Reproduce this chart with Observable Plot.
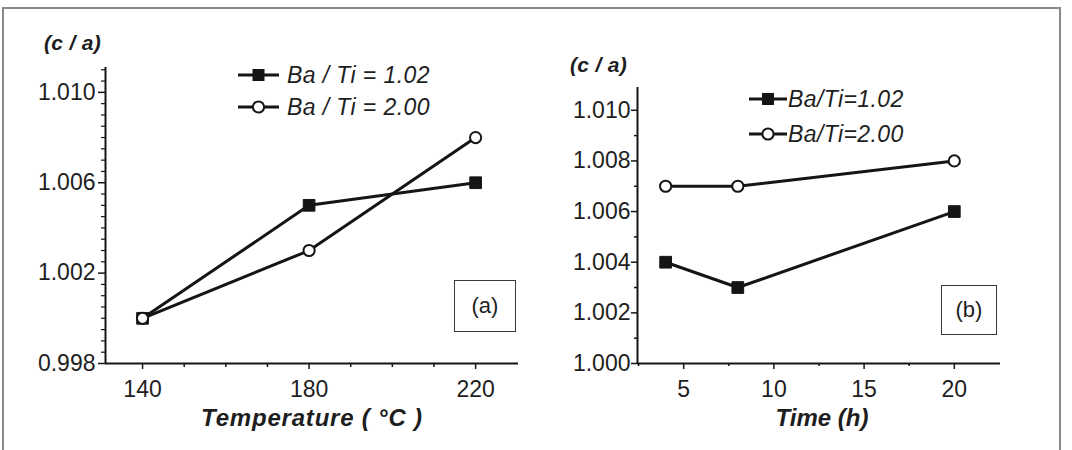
<!DOCTYPE html>
<html>
<head>
<meta charset="utf-8">
<script src="https://cdn.jsdelivr.net/npm/d3@7"></script>
<script src="https://cdn.jsdelivr.net/npm/@observablehq/plot@0.6"></script>
<style>
  body { margin: 0; background: #fff; }
  #wrap { position: relative; width: 1072px; height: 450px; overflow: hidden; background: #fff;
          font-family: "Liberation Sans", Arial, sans-serif; color: #1e1e1e; }
  .abs { position: absolute; white-space: nowrap; }
  .ca { font-size: 21px; font-weight: bold; font-style: italic; transform: translateY(-50%); letter-spacing: 0.3px; }
  .xt { font-size: 24px; font-weight: bold; font-style: italic; transform: translate(-50%, -50%); }
  .leg { font-size: 23px; font-style: italic; transform: translateY(-50%); letter-spacing: 0.4px; }
  .box { border: 1.5px solid #3a3a3a; font-size: 22px; display: flex; align-items: center; justify-content: center; box-sizing: border-box; }
  .frame { border: 2px solid #8a8a8a; box-sizing: border-box; }
</style>
</head>
<body>
<div id="wrap">
  <div class="abs frame" style="left:2px; top:7px; width:1059px; height:520px;"></div>
  <div class="abs" id="panelA" style="left:0; top:0;"></div>
  <div class="abs" id="panelB" style="left:536px; top:0;"></div>
</div>
<script>
// Lattice tetragonality (c/a) of BaTiO3 powders for two Ba/Ti ratios
const seriesA = ["Ba / Ti = 1.02", "Ba / Ti = 2.00"];
const seriesB = ["Ba/Ti=1.02", "Ba/Ti=2.00"];
const seriesMarker = ["square", "circle"];

// (a) versus synthesis temperature
const temperature = [140, 180, 220];
const caTempLow = [1.000, 1.005, 1.006];   // Ba/Ti = 1.02
const caTempHigh = [1.000, 1.003, 1.008];  // Ba/Ti = 2.00

// (b) versus synthesis time
const timeH = [4, 8, 20];
const caTimeLow = [1.004, 1.003, 1.006];   // Ba/Ti = 1.02
const caTimeHigh = [1.007, 1.007, 1.008];  // Ba/Ti = 2.00

// tick values
const tempTicks = [140, 180, 220];
const tempMinor = [150, 160, 170, 190, 200, 210];
const caTicksA = [0.998, 1.002, 1.006, 1.010];
const timeTicks = [5, 10, 15, 20];
const timeMinor = [2.5, 7.5, 12.5, 17.5];
const caTicksB = [1.000, 1.002, 1.004, 1.006, 1.008, 1.010];
const caMinorB = [1.001, 1.003, 1.005, 1.007, 1.009];

const xDomainA = [131.1, 230.3];
const yDomainA = [0.998, 1.0111];
const xDomainB = [2.44, 22.56];
const yDomainB = [1.000, 1.0109];

const ink = "#151515";
const textInk = "#1e1e1e";
const fmt3 = d3.format(".3f");
const blank = () => "";

function rows(xs, ys, s) { return xs.map((x, i) => ({x, y: ys[i], s})); }

const dataA = [...rows(temperature, caTempLow, 0), ...rows(temperature, caTempHigh, 1)];
const dataB = [...rows(timeH, caTimeLow, 0), ...rows(timeH, caTimeHigh, 1)];

function seriesMarks(data) {
  return [
    Plot.line(data.filter(d => d.s === 0), {x: "x", y: "y", stroke: ink, strokeWidth: 3}),
    Plot.line(data.filter(d => d.s === 1), {x: "x", y: "y", stroke: ink, strokeWidth: 3}),
    Plot.dot(data.filter(d => d.s === 0), {x: "x", y: "y", symbol: "square", r: 6.6, fill: ink, stroke: ink, strokeWidth: 1}),
    Plot.dot(data.filter(d => d.s === 1), {x: "x", y: "y", symbol: "circle", r: 5.6, fill: "#fff", stroke: ink, strokeWidth: 2})
  ];
}

function range(a, b, step) {
  const out = [];
  for (let v = a; v <= b + 1e-9; v += step) out.push(+v.toFixed(4));
  return out;
}

const plotStyle = {fontFamily: "'Liberation Sans', Arial, sans-serif", color: textInk, background: "transparent", overflow: "visible"};

// Panel (a): temperature
const plotA = Plot.plot({
  width: 536, height: 450,
  marginLeft: 105, marginRight: 18, marginTop: 67, marginBottom: 87,
  style: plotStyle,
  x: {domain: xDomainA},
  y: {domain: yDomainA},
  marks: [
    Plot.axisY(range(0.9985, 1.011, 0.0005).filter(v => !caTicksA.some(t => Math.abs(t - v) < 1e-6)),
      {tickSize: 4, tickFormat: blank, stroke: ink, strokeWidth: 1.2, label: null}),
    Plot.axisY(caTicksA, {tickSize: 7, tickPadding: 3, tickFormat: fmt3, fontSize: 23, stroke: ink, strokeWidth: 1.5, label: null}),
    Plot.axisX(tempMinor, {tickSize: 4, tickFormat: blank, stroke: ink, strokeWidth: 1.5, label: null}),
    Plot.axisX(tempTicks, {tickSize: 6, tickPadding: 11, fontSize: 23, stroke: ink, strokeWidth: 1.5, label: null}),
    Plot.ruleX([xDomainA[0]], {stroke: ink, strokeWidth: 2}),
    Plot.ruleY([yDomainA[0]], {stroke: ink, strokeWidth: 2}),
    ...seriesMarks(dataA)
  ]
});
document.getElementById("panelA").append(plotA);

// Panel (b): time
const plotB = Plot.plot({
  width: 536, height: 450,
  marginLeft: 101, marginRight: 72, marginTop: 87, marginBottom: 87,
  style: plotStyle,
  x: {domain: xDomainB},
  y: {domain: yDomainB},
  marks: [
    Plot.axisY(caMinorB, {tickSize: 3, tickFormat: blank, stroke: ink, strokeWidth: 1.5, label: null}),
    Plot.axisY(caTicksB, {tickSize: 6, tickPadding: 1, tickFormat: fmt3, fontSize: 23, stroke: ink, strokeWidth: 1.5, label: null}),
    Plot.axisX(timeMinor, {tickSize: 3, tickFormat: blank, stroke: ink, strokeWidth: 1.5, label: null}),
    Plot.axisX(timeTicks, {tickSize: 6, tickPadding: 11, fontSize: 23, stroke: ink, strokeWidth: 1.5, label: null}),
    Plot.ruleX([xDomainB[0]], {stroke: ink, strokeWidth: 2}),
    Plot.ruleY([yDomainB[0]], {stroke: ink, strokeWidth: 2}),
    ...seriesMarks(dataB)
  ]
});
document.getElementById("panelB").append(plotB);

// Text annotations, legends and panel tags
const wrap = document.getElementById("wrap");
function addDiv(cls, style, html) {
  const d = document.createElement("div");
  d.className = "abs " + cls;
  d.setAttribute("style", style);
  d.innerHTML = html;
  wrap.append(d);
  return d;
}
addDiv("ca", "left:44px; top:43px;", "(c / a)");
addDiv("ca", "left:570px; top:65px;", "(c / a)");
addDiv("xt", "left:312px; top:418px; letter-spacing:0.8px;", "Temperature ( °C )");
addDiv("xt", "left:822px; top:418px;", "Time (h)");
addDiv("box", "left:454px; top:280px; width:62px; height:52px;", "(a)");
addDiv("box", "left:941px; top:285px; width:56px; height:50px;", "(b)");

function swatch(marker, w) {
  const c = w / 2;
  const m = marker === "square"
    ? `<rect x="${c - 6}" y="4" width="12" height="12" fill="${ink}"/>`
    : `<circle cx="${c}" cy="10" r="5.6" fill="#fff" stroke="${ink}" stroke-width="2"/>`;
  return `<svg width="${w}" height="20" style="display:block"><line x1="0" x2="${w}" y1="10" y2="10" stroke="${ink}" stroke-width="3"/>${m}</svg>`;
}
function legend(names, x, textX, ys, w) {
  names.forEach((name, i) => {
    addDiv("", `left:${x}px; top:${ys[i] - 10}px;`, swatch(seriesMarker[i], w));
    addDiv("leg", `left:${textX}px; top:${ys[i]}px;`, name);
  });
}
legend(seriesA, 238, 287, [75, 107], 41);
legend(seriesB, 749, 788, [99, 134], 38);
</script>
</body>
</html>
